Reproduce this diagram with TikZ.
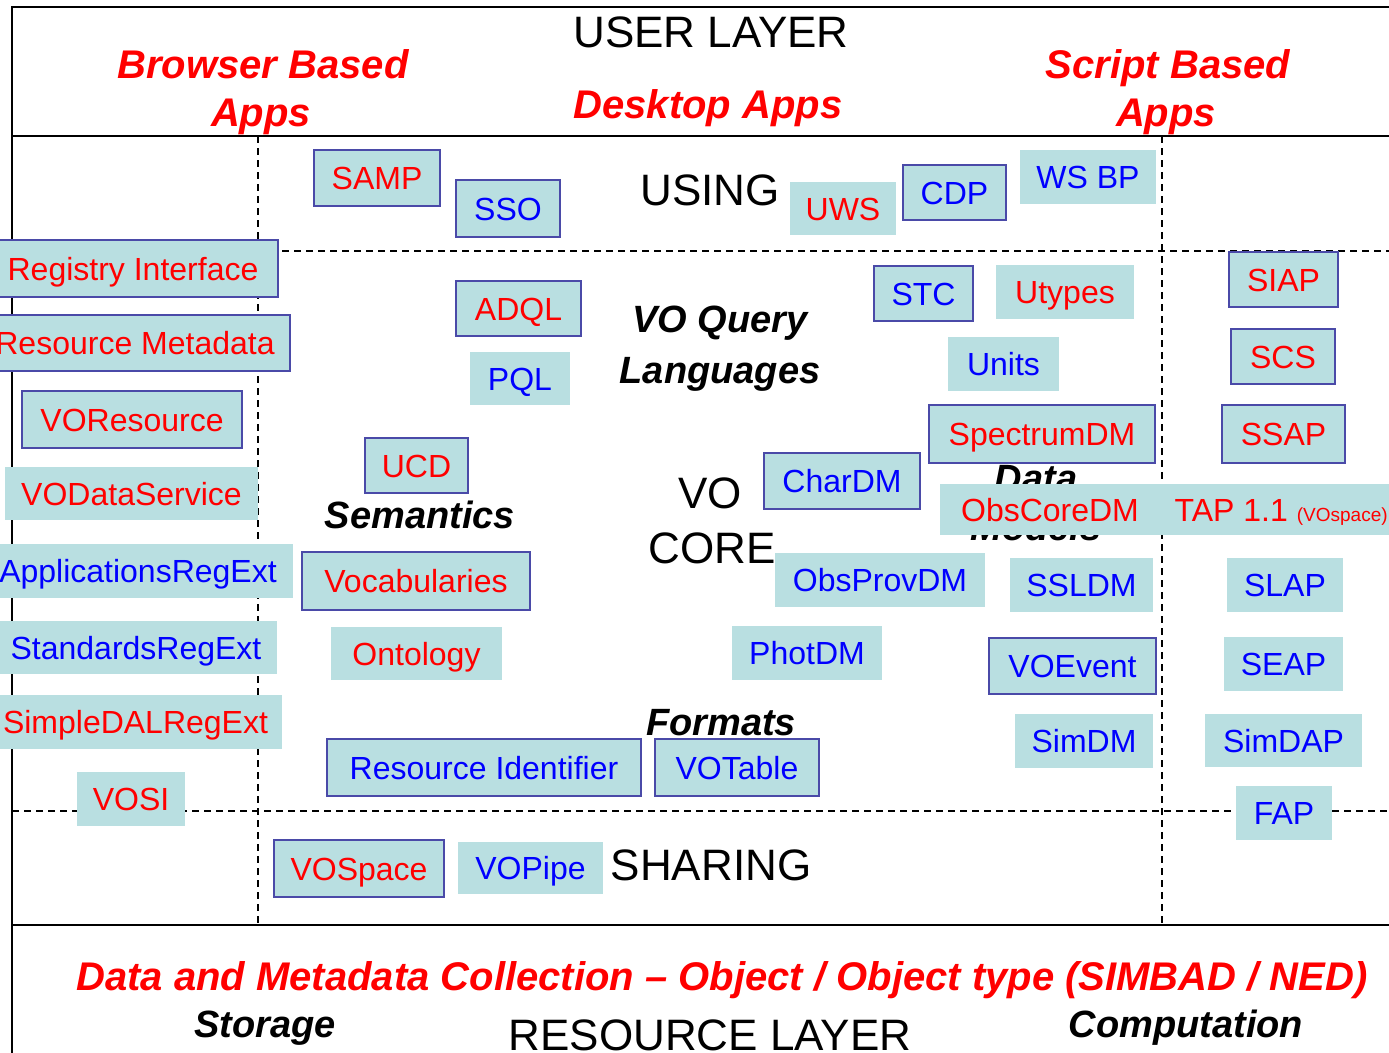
\documentclass[tikz,border=0pt]{standalone}
\usepackage{fontspec}
\setmainfont{Liberation Sans}
\definecolor{tile}{HTML}{B9DFE1}
\definecolor{edge}{HTML}{4A4AA8}
\definecolor{rtx}{HTML}{FF0000}
\definecolor{btx}{HTML}{0000FF}

\begin{document}
\begin{tikzpicture}[x=1pt,y=-1pt,
    bx/.style={rectangle,draw=edge,line width=1.4pt,fill=tile,inner sep=0pt,font=\fontsize{32}{38}\selectfont,text height=23pt,text depth=0pt},
    redbox/.style={bx,text=rtx},
    bluebox/.style={bx,text=btx},
    redflat/.style={bx,draw=none,text=rtx},
    blueflat/.style={bx,draw=none,text=btx},
    wh/.style 2 args={minimum width=#1pt,minimum height=#2pt},
    hd/.style={font=\fontsize{40}{48}\selectfont\bfseries\itshape,anchor=base,text=rtx},
    cat/.style={font=\fontsize{38}{46}\selectfont\bfseries\itshape,anchor=base},
    lay/.style={font=\fontsize{44}{52}\selectfont,anchor=base},
    frm/.style={line width=1.6pt},
    sep/.style={line width=1.3pt,dash pattern=on 7pt off 5pt},
]
\useasboundingbox (0,0) rectangle (1389,1052);

% Frame and layers
\draw[frm] (1400,7) -- (12,7) -- (12,1060);
\draw[frm] (12,136) -- (1400,136);
\draw[frm] (12,925) -- (1400,925);
\draw[sep] (258,136) -- (258,925);
\draw[sep] (1162,136) -- (1162,925);
\draw[sep] (258,251) -- (1400,251);
\draw[sep] (12,811) -- (1400,811);

% User layer
\node[lay] (user) at (711,47) {USER LAYER};
\node[hd] (brw1) at (263,78) {Browser Based};
\node[hd] (brw2) at (261,126) {Apps};
\node[hd] (desk) at (708,118) {Desktop Apps};
\node[hd] (scr1) at (1168,78) {Script Based};
\node[hd] (scr2) at (1166,126) {Apps};

% Labels in the middle
\node[lay] (using) at (710,205) {USING};
\node[cat] (query1) at (720,332) {VO Query};
\node[cat] (query2) at (720,383) {Languages};
\node[cat] (sem) at (420,528) {Semantics};
\node[lay] (core1) at (710,508) {VO};
\node[lay] (core2) at (712,563) {CORE};
\node[cat] (fmt) at (721,735) {Formats};
\node[cat] (dm1) at (1036,491) {Data};
\node[cat] (dm2) at (1036,540) {Models};
\node[lay] (share) at (711,880) {SHARING};

% Resource layer
\node[hd] (coll) at (722,990) {Data and Metadata Collection – Object / Object type (SIMBAD / NED)};
\node[cat] (stor) at (265,1037) {Storage};
\node[lay] (res) at (710,1050) {RESOURCE LAYER};
\node[cat] (comp) at (1186,1037) {Computation};

% Using row
\node[redbox,wh={126}{56}] (samp) at (377,178) {SAMP};
\node[bluebox,wh={104}{57}] (sso) at (508,208.5) {SSO};
\node[redflat,wh={106}{53}] (uws) at (843,208.5) {UWS};
\node[bluebox,wh={103}{55}] (cdp) at (954.5,192.5) {CDP};
\node[blueflat,wh={136}{54}] (wsbp) at (1088,177) {WS BP};

% Registry column
\node[redbox,wh={290}{57}] (regif) at (133,268.5) {Registry Interface};
\node[redbox,wh={310}{56}] (resmeta) at (135,343) {Resource Metadata};
\node[redbox,wh={220}{57}] (vores) at (132,419.5) {VOResource};
\node[redflat,wh={253}{53}] (vods) at (131.5,493.5) {VODataService};
\node[blueflat,wh={310}{54}] (appreg) at (138,571) {ApplicationsRegExt};
\node[blueflat,wh={282}{53}] (stdreg) at (136,647.5) {StandardsRegExt};
\node[redflat,wh={293}{54}] (dalreg) at (135.5,722) {SimpleDALRegExt};
\node[redflat,wh={108}{54}] (vosi) at (131,799) {VOSI};

% Query languages, semantics, formats
\node[redbox,wh={125}{55}] (adql) at (518.5,308.5) {ADQL};
\node[blueflat,wh={100}{53}] (pql) at (520,378.5) {PQL};
\node[redbox,wh={103}{55}] (ucd) at (416.5,465.5) {UCD};
\node[redbox,wh={228}{58}] (vocab) at (416,581) {Vocabularies};
\node[redflat,wh={171}{53}] (onto) at (416.5,653.5) {Ontology};
\node[bluebox,wh={314}{57}] (resid) at (484,767.5) {Resource Identifier};
\node[bluebox,wh={164}{57}] (votab) at (737,767.5) {VOTable};

% Data models
\node[bluebox,wh={99}{55}] (stc) at (923.5,293.5) {STC};
\node[redflat,wh={138}{54}] (utypes) at (1065,292) {Utypes};
\node[blueflat,wh={111}{54}] (units) at (1003.5,364) {Units};
\node[redbox,wh={226}{58}] (specdm) at (1042,434) {SpectrumDM};
\node[bluebox,wh={156}{56}] (chardm) at (842,481) {CharDM};
\node[redflat,wh={220}{51}] (obscore) at (1050,509.5) {ObsCoreDM};
\node[redflat,anchor=west,inner xsep=19pt,minimum height=51pt] (tap) at (1155,509.5) {TAP 1.1 {\fontsize{19}{22}\selectfont(VOspace)}};
\node[blueflat,wh={210}{54}] (provdm) at (880,580) {ObsProvDM};
\node[blueflat,wh={150}{54}] (photdm) at (807,653) {PhotDM};
\node[blueflat,wh={143}{54}] (ssldm) at (1081.5,585) {SSLDM};
\node[bluebox,wh={167}{56}] (voevent) at (1072.5,666) {VOEvent};
\node[blueflat,wh={138}{54}] (simdm) at (1084,741) {SimDM};

% Access protocols
\node[redbox,wh={109}{55}] (siap) at (1283.5,279.5) {SIAP};
\node[redbox,wh={104}{55}] (scs) at (1283,356.5) {SCS};
\node[redbox,wh={123}{58}] (ssap) at (1283.5,434) {SSAP};
\node[blueflat,wh={116}{54}] (slap) at (1285,585) {SLAP};
\node[blueflat,wh={119}{54}] (seap) at (1283.5,664) {SEAP};
\node[blueflat,wh={157}{53}] (simdap) at (1283.5,740.5) {SimDAP};
\node[blueflat,wh={96}{54}] (fap) at (1284,813) {FAP};

% Sharing
\node[redbox,wh={170}{57}] (vospace) at (359,868.5) {VOSpace};
\node[blueflat,wh={145}{52}] (vopipe) at (530.5,868) {VOPipe};
\end{tikzpicture}
\end{document}
